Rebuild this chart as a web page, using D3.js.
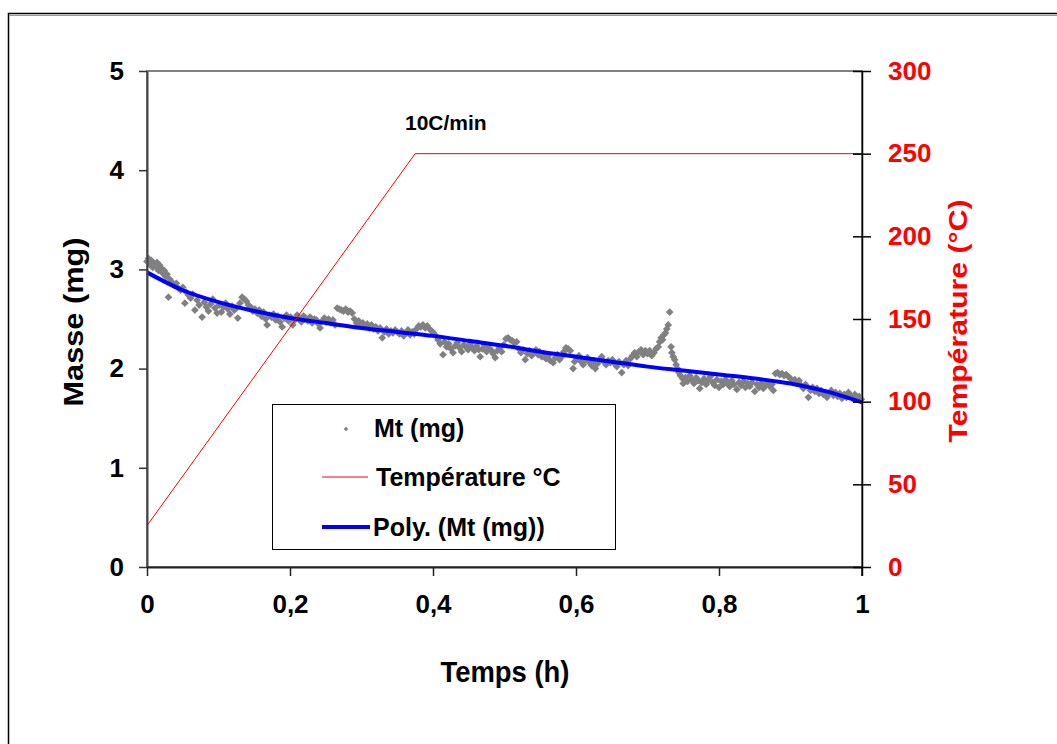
<!DOCTYPE html>
<html><head><meta charset="utf-8">
<script src="https://cdn.jsdelivr.net/npm/d3@7"></script>
<style>body{margin:0;background:#fff}svg{display:block}text{font-family:"Liberation Sans",Arial,sans-serif;font-weight:bold}</style>
</head><body>
<svg id="c" width="1057" height="744"></svg>
<script>
// ---- data ----
const massTicks = [0,1,2,3,4,5];
const tempTicks = [0,50,100,150,200,250,300];
const timeTicks = [0,0.2,0.4,0.6,0.8,1];
const timeTickLabels = ["0","0,2","0,4","0,6","0,8","1"];
const tempTime = [0, 0.375, 1];
const tempValue = [25, 250, 250];
const polyTime = [0,0.05,0.1,0.15,0.2,0.25,0.3,0.35,0.4,0.45,0.5,0.55,0.6,0.65,0.7,0.75,0.8,0.85,0.9,0.95,1];
const polyMass = [2.97,2.79,2.67,2.58,2.51,2.46,2.41,2.37,2.33,2.28,2.23,2.17,2.12,2.07,2.02,1.98,1.94,1.90,1.85,1.77,1.66];
const mtSamples = [
[0.000,3.08],[0.002,3.11],[0.004,3.05],[0.006,3.09],[0.008,3.02],[0.010,3.06],[0.012,3.03],[0.014,3.07],[0.016,2.99],[0.018,3.04],[0.020,3.01],[0.022,2.96],[0.024,2.99],[0.026,2.93],[0.028,2.95],[0.030,2.72],[0.032,2.90],[0.035,2.87],[0.038,2.84],[0.041,2.86],[0.044,2.81],[0.047,2.79],[0.050,2.82],
[0.053,2.66],[0.055,2.77],[0.058,2.74],[0.061,2.71],[0.064,2.75],[0.067,2.59],[0.070,2.69],[0.073,2.64],[0.077,2.52],[0.080,2.67],[0.083,2.62],[0.086,2.58],[0.089,2.65],[0.092,2.70],[0.095,2.61],[0.098,2.56],
[0.101,2.64],[0.104,2.57],[0.107,2.62],[0.110,2.66],[0.113,2.60],[0.116,2.55],[0.119,2.63],[0.122,2.59],[0.125,2.61],[0.127,2.51],[0.130,2.66],[0.133,2.72],[0.136,2.70],[0.139,2.68],[0.142,2.64],[0.145,2.62],[0.148,2.58],
[0.151,2.60],[0.154,2.56],[0.157,2.59],[0.160,2.53],[0.163,2.57],[0.166,2.50],[0.168,2.44],[0.171,2.54],[0.174,2.52],[0.177,2.55],[0.180,2.49],[0.183,2.53],[0.186,2.47],[0.189,2.42],[0.192,2.51],[0.195,2.54],[0.198,2.48],
[0.201,2.52],[0.204,2.44],[0.207,2.49],[0.210,2.54],[0.213,2.50],[0.216,2.47],[0.219,2.53],[0.222,2.51],[0.225,2.48],[0.228,2.52],[0.231,2.46],[0.234,2.50],[0.237,2.49],[0.240,2.45],[0.242,2.41],[0.245,2.48],[0.248,2.51],
[0.251,2.47],[0.254,2.50],[0.257,2.46],[0.260,2.49],[0.263,2.44],[0.266,2.61],[0.269,2.60],[0.272,2.59],[0.275,2.58],[0.278,2.60],[0.281,2.57],[0.284,2.58],[0.287,2.56],[0.290,2.50],[0.293,2.46],[0.296,2.48],[0.299,2.44],
[0.302,2.46],[0.305,2.43],[0.308,2.45],[0.311,2.41],[0.314,2.44],[0.317,2.40],[0.320,2.42],[0.323,2.38],[0.326,2.41],[0.329,2.31],[0.332,2.37],[0.335,2.40],[0.338,2.35],[0.341,2.38],[0.344,2.36],[0.347,2.39],
[0.350,2.37],[0.353,2.35],[0.356,2.38],[0.359,2.33],[0.362,2.36],[0.365,2.39],[0.368,2.34],[0.371,2.37],[0.374,2.35],[0.377,2.40],[0.380,2.43],[0.383,2.42],[0.386,2.44],[0.389,2.41],[0.392,2.43],[0.395,2.40],[0.398,2.38],
[0.401,2.36],[0.404,2.33],[0.407,2.29],[0.410,2.25],[0.414,2.14],[0.416,2.27],[0.419,2.22],[0.422,2.25],[0.425,2.20],[0.428,2.16],[0.431,2.23],[0.434,2.26],[0.437,2.21],[0.440,2.17],[0.443,2.24],[0.446,2.22],[0.449,2.19],
[0.452,2.25],[0.455,2.21],[0.458,2.18],[0.461,2.23],[0.464,2.19],[0.466,2.12],[0.469,2.20],[0.472,2.24],[0.475,2.17],[0.478,2.21],[0.481,2.19],[0.484,2.15],[0.487,2.11],[0.490,2.18],[0.493,2.21],[0.496,2.17],[0.499,2.24],
[0.502,2.30],[0.505,2.31],[0.508,2.29],[0.511,2.28],[0.514,2.26],[0.517,2.27],[0.520,2.20],[0.523,2.16],[0.526,2.19],[0.529,2.09],[0.532,2.15],[0.535,2.18],[0.538,2.13],[0.541,2.16],[0.544,2.19],[0.547,2.14],[0.549,2.17],
[0.552,2.12],[0.555,2.15],[0.558,2.10],[0.561,2.13],[0.564,2.08],[0.568,2.06],[0.571,2.11],[0.574,2.14],[0.577,2.09],[0.580,2.12],[0.583,2.17],[0.586,2.21],[0.589,2.20],[0.592,2.18],[0.596,2.00],[0.598,2.07],
[0.601,2.10],[0.604,2.13],[0.607,2.07],[0.610,2.04],[0.613,2.09],[0.616,2.11],[0.619,2.06],[0.622,2.03],[0.625,2.08],[0.627,2.00],[0.630,2.05],[0.633,2.09],[0.636,2.12],[0.639,2.07],[0.642,2.04],[0.645,2.08],[0.648,2.06],
[0.651,2.09],[0.654,2.05],[0.657,2.02],[0.660,2.07],[0.664,1.96],[0.667,2.04],[0.670,2.08],[0.673,2.03],[0.676,2.10],[0.679,2.13],[0.682,2.16],[0.685,2.12],[0.688,2.17],[0.691,2.19],[0.694,2.14],[0.697,2.18],
[0.700,2.15],[0.703,2.18],[0.706,2.13],[0.709,2.16],[0.712,2.20],[0.715,2.22],[0.717,2.27],[0.719,2.31],[0.721,2.29],[0.723,2.34],[0.725,2.36],[0.727,2.40],[0.729,2.44],[0.731,2.57],[0.733,2.22],[0.734,2.16],[0.736,2.12],[0.738,2.09],[0.740,2.04],[0.742,2.00],[0.744,1.96],[0.746,1.93],[0.749,1.90],[0.750,1.85],
[0.753,1.91],[0.756,1.87],[0.759,1.93],[0.762,1.89],[0.765,1.85],[0.768,1.91],[0.771,1.88],[0.773,1.80],[0.776,1.86],[0.779,1.90],[0.782,1.84],[0.785,1.88],[0.788,1.92],[0.791,1.86],[0.794,1.83],[0.797,1.89],
[0.800,1.81],[0.803,1.87],[0.806,1.84],[0.809,1.89],[0.812,1.85],[0.815,1.82],[0.818,1.88],[0.821,1.84],[0.825,1.79],[0.828,1.86],[0.831,1.83],[0.834,1.87],[0.837,1.81],[0.840,1.85],[0.843,1.82],[0.846,1.86],[0.850,1.77],
[0.853,1.84],[0.856,1.81],[0.859,1.85],[0.862,1.80],[0.865,1.83],[0.868,1.86],[0.871,1.82],[0.874,1.84],[0.876,1.78],[0.879,1.95],[0.882,1.96],[0.885,1.94],[0.888,1.95],[0.891,1.93],[0.894,1.94],[0.897,1.92],[0.900,1.90],
[0.903,1.86],[0.906,1.89],[0.909,1.85],[0.912,1.88],[0.915,1.83],[0.918,1.80],[0.921,1.84],[0.925,1.71],[0.928,1.78],[0.931,1.81],[0.934,1.77],[0.937,1.80],[0.940,1.75],[0.943,1.78],[0.946,1.74],[0.949,1.76],[0.951,1.71],
[0.954,1.75],[0.957,1.78],[0.960,1.73],[0.963,1.76],[0.966,1.72],[0.969,1.75],[0.972,1.70],[0.975,1.74],[0.978,1.71],[0.981,1.76],[0.984,1.73],[0.987,1.70],[0.990,1.74],[0.993,1.71],[0.996,1.72],[0.999,1.69]
];
const legendLabels = ["Mt (mg)", "Température °C", "Poly. (Mt (mg))"];

// ---- layout ----
const svg = d3.select("#c");
const L = 147, R = 862, T = 71, B = 567;
const x = d3.scaleLinear().domain([0,1]).range([L,R]);
const yM = d3.scaleLinear().domain([0,5]).range([B,T]);
const yT = d3.scaleLinear().domain([0,300]).range([B,T]);
const GRAY = "#808080";

// outer frame
svg.append("rect").attr("x",8.5).attr("y",13.5).attr("width",1100).attr("height",800)
  .attr("fill","none").attr("stroke","#000").attr("stroke-width",1.5);
svg.append("line").attr("x1",9).attr("x2",1057).attr("y1",15.5).attr("y2",15.5).attr("stroke","#999").attr("stroke-width",1);

// plot area border (gray)
svg.append("rect").attr("x",L).attr("y",T).attr("width",R-L).attr("height",B-T)
  .attr("fill","none").attr("stroke",GRAY).attr("stroke-width",2);

// scatter
const sym = d3.symbol().type(d3.symbolSquare).size(30);
const gp = svg.append("g");
gp.selectAll("path").data(mtSamples).join("path")
  .attr("d", sym)
  .attr("transform", d => `translate(${x(d[0])},${yM(d[1])}) rotate(45)`)
  .attr("fill", GRAY);

// polynomial trendline
const polyPts = polyTime.map((t,i)=>[t, polyMass[i]]);
svg.append("path").datum(polyPts)
  .attr("d", d3.line().x(d=>x(d[0])).y(d=>yM(d[1])).curve(d3.curveMonotoneX))
  .attr("fill","none").attr("stroke","#0000FF").attr("stroke-width",4);

// temperature
const tempPts = tempTime.map((t,i)=>[t, tempValue[i]]);
svg.append("path").datum(tempPts)
  .attr("d", d3.line().x(d=>x(d[0])).y(d=>yT(d[1])))
  .attr("fill","none").attr("stroke","#FF0000").attr("stroke-width",1);

// left axis
const gl = svg.append("g").attr("transform",`translate(${L},0)`)
  .call(d3.axisLeft(yM).tickValues(massTicks).tickSize(8).tickSizeOuter(0).tickPadding(15).tickFormat(d=>String(d)));
gl.select(".domain").attr("stroke","#444").attr("stroke-width",2);
gl.selectAll(".tick line").attr("stroke","#333").attr("stroke-width",1.5);
gl.selectAll("text").attr("font-size",26).attr("fill","#000").attr("font-family","Liberation Sans, Arial").attr("font-weight","bold");

// bottom axis
const gb = svg.append("g").attr("transform",`translate(0,${B})`)
  .call(d3.axisBottom(x).tickValues(timeTicks).tickSize(9).tickSizeOuter(0).tickPadding(19).tickFormat((d,i)=>timeTickLabels[i]));
gb.select(".domain").attr("stroke","#222").attr("stroke-width",2);
gb.selectAll(".tick line").attr("stroke","#222").attr("stroke-width",1.5);
gb.selectAll("text").attr("font-size",26).attr("fill","#000").attr("font-family","Liberation Sans, Arial").attr("font-weight","bold");

// right axis
const gr = svg.append("g").attr("transform",`translate(${R},0)`)
  .call(d3.axisRight(yT).tickValues(tempTicks).tickSize(9).tickSizeOuter(0).tickPadding(17).tickFormat(d=>String(d)));
gr.select(".domain").attr("stroke","#000").attr("stroke-width",1.5);
gr.selectAll(".tick line").attr("x1",-9).attr("stroke","#000").attr("stroke-width",1.5);
gr.selectAll("text").attr("font-size",26).attr("fill","#FF0000").attr("font-family","Liberation Sans, Arial").attr("font-weight","bold");
svg.append("line").attr("x1",R).attr("x2",R).attr("y1",B).attr("y2",B+9).attr("stroke","#000").attr("stroke-width",1.5);

// axis titles
svg.append("text").attr("transform","translate(83,322) rotate(-90)").attr("text-anchor","middle")
  .attr("font-size",27).attr("textLength",169).attr("lengthAdjust","spacingAndGlyphs").text("Masse (mg)");
svg.append("text").attr("transform","translate(967,321) rotate(-90)").attr("text-anchor","middle")
  .attr("font-size",26).attr("fill","#FF0000").attr("textLength",243).attr("lengthAdjust","spacingAndGlyphs").text("Température (°C)");
svg.append("text").attr("x",505).attr("y",682).attr("text-anchor","middle")
  .attr("font-size",29).attr("textLength",129).attr("lengthAdjust","spacingAndGlyphs").text("Temps (h)");

// annotation
svg.append("text").attr("x",405).attr("y",130).attr("font-size",21).text("10C/min");

// legend
const lg = svg.append("g");
lg.append("rect").attr("x",272.5).attr("y",404.5).attr("width",343).attr("height",145)
  .attr("fill","#fff").attr("stroke","#000").attr("stroke-width",1);
lg.append("path").attr("d", d3.symbol().type(d3.symbolSquare).size(10))
  .attr("transform","translate(346,429) rotate(45)").attr("fill",GRAY);
lg.append("line").attr("x1",322).attr("x2",368).attr("y1",477).attr("y2",477).attr("stroke","#FF0000").attr("stroke-width",1);
lg.append("line").attr("x1",322).attr("x2",370).attr("y1",527).attr("y2",527).attr("stroke","#0000FF").attr("stroke-width",4);
const lx = [374, 376, 373], ly = [437, 486, 536];
legendLabels.forEach((s,i)=>{
  lg.append("text").attr("x",lx[i]).attr("y",ly[i]).attr("font-size",25).text(s);
});
</script>
</body></html>
